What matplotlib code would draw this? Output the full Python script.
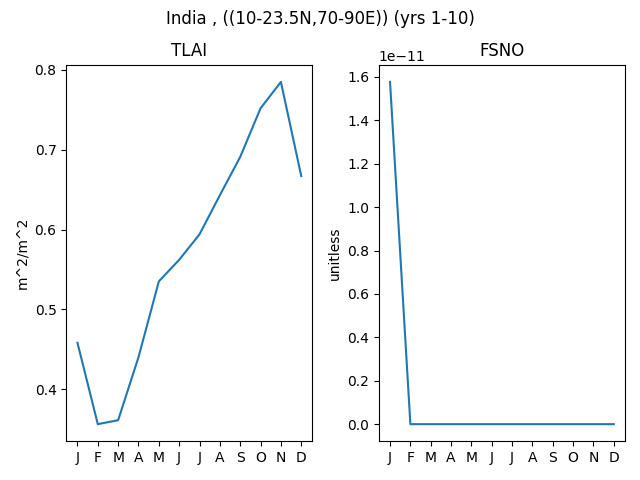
import numpy as np
import matplotlib
matplotlib.use('Agg')
import matplotlib.pyplot as plt

months = ['J', 'F', 'M', 'A', 'M', 'J', 'J', 'A', 'S', 'O', 'N', 'D']
tlai = [0.458, 0.356, 0.361, 0.440, 0.535, 0.562, 0.594, 0.643, 0.691, 0.752, 0.785, 0.667]
fsno = [1.577e-11, 0, 0, 0, 0, 0, 0, 0, 0, 0, 0, 0]


def main():
    fig, (ax1, ax2) = plt.subplots(1, 2, figsize=(6.4, 4.8), dpi=100)
    x = np.arange(len(months))

    ax1.plot(x, tlai)
    ax1.set_title('TLAI')
    ax1.set_ylabel('m^2/m^2')
    ax1.set_xticks(x)
    ax1.set_xticklabels(months)

    ax2.plot(x, fsno)
    ax2.set_title('FSNO')
    ax2.set_ylabel('unitless')
    ax2.set_xticks(x)
    ax2.set_xticklabels(months)

    fig.suptitle('India , ((10-23.5N,70-90E)) (yrs 1-10)')
    fig.tight_layout()
    fig.subplots_adjust(top=0.865)
    fig.savefig('out.png')


if __name__ == '__main__':
    main()
